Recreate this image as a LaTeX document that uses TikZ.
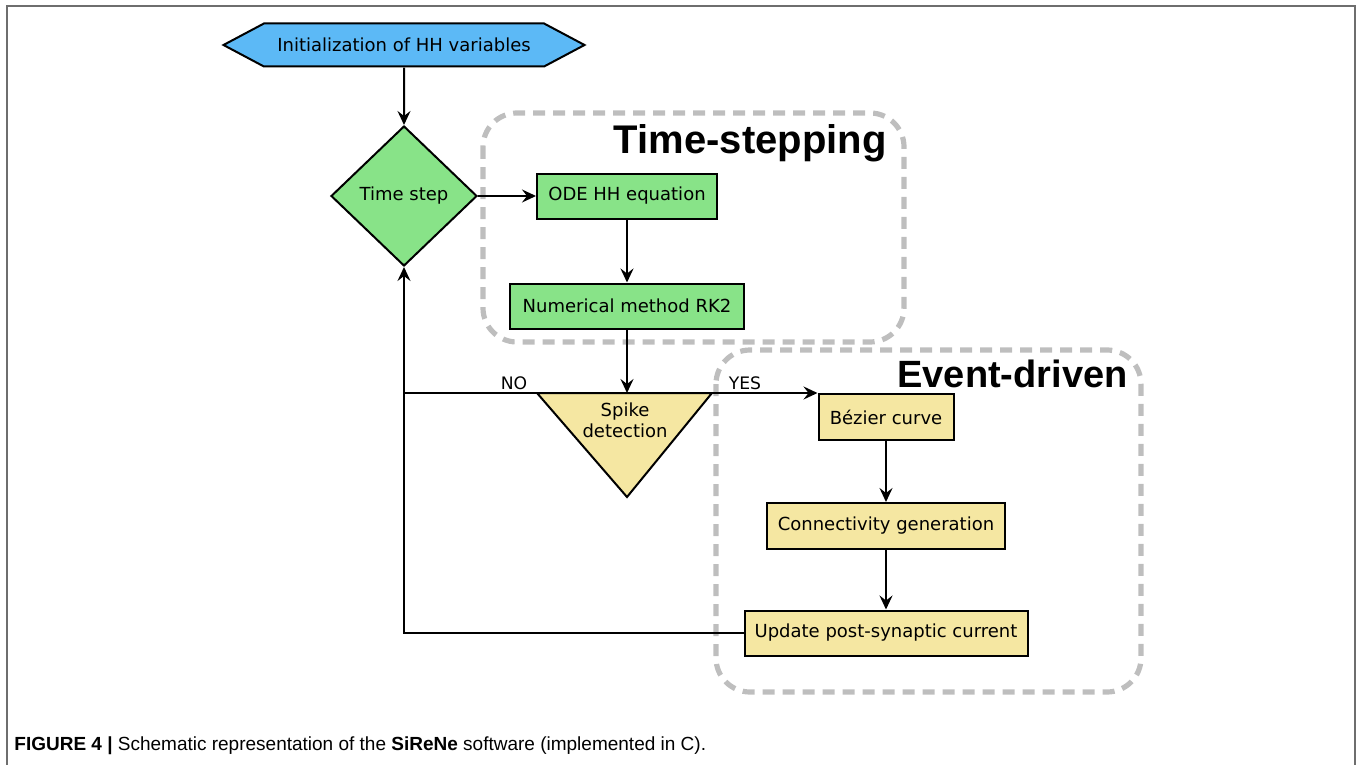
\documentclass[tikz,border=0pt]{standalone}
\usepackage{fontspec}
\setmainfont{DejaVu Sans}
\newfontfamily\ttlfont{Liberation Sans}
\newfontfamily\capfont{Liberation Sans}
\usetikzlibrary{shapes.geometric,shapes.symbols,arrows.meta}
\definecolor{hexblue}{RGB}{92,185,246}
\definecolor{boxgreen}{RGB}{136,227,136}
\definecolor{boxyellow}{RGB}{245,231,162}
\definecolor{grpgray}{RGB}{190,190,190}
\definecolor{framegray}{RGB}{110,110,110}
\begin{document}
\begin{tikzpicture}[x=0.5pt,y=-0.5pt,
  box/.style={draw, line width=1pt, inner sep=0pt, font=\fontsize{9}{11}\selectfont},
  hexa/.style={box, signal, signal to=west and east, signal pointer angle=56, fill=hexblue},
  dia/.style={box, diamond, fill=boxgreen},
  grp/.style={draw=grpgray, line width=2.6pt, dash pattern=on 6pt off 4pt, rounded corners=17pt},
  ttl/.style={font=\ttlfont\bfseries\fontsize{20}{24}\selectfont, inner sep=0pt},
  lbl/.style={font=\fontsize{8.6}{10}\selectfont, inner sep=1pt},
  arr/.style={line width=1pt, -{Stealth[length=7pt,width=6.5pt,inset=2.5pt]}}]
\useasboundingbox (0,0) rectangle (1360,765);
\draw[framegray, line width=1pt] (7,765) -- (7,6) -- (1355,6) -- (1355,765);
\draw[grp] (483,113) rectangle (904,342);
\draw[grp] (716,350) rectangle (1141,692);
\node[ttl, anchor=base east] (tsttl) at (887,154) {Time-stepping};
\node[ttl, anchor=base east, font=\ttlfont\bfseries\fontsize{19}{23}\selectfont] (edttl) at (1128,387) {Event-driven};
\node[hexa, minimum width=180.5pt, minimum height=21.5pt] (init) at (404,45) {Initialization of HH variables};
\node[dia, minimum width=73pt, minimum height=70pt] (tstep) at (404,196) {Time step};
\node[box, fill=boxgreen, minimum width=90pt, minimum height=22.5pt] (ode) at (627,196) {ODE HH equation};
\node[box, fill=boxgreen, minimum width=117pt, minimum height=22.5pt] (rk2) at (627,306) {Numerical method RK2};
\coordinate (spl) at (537,393);
\coordinate (spr) at (712,393);
\coordinate (spb) at (627,497);
\coordinate (spt) at (627,393);
\draw[box, fill=boxyellow] (spl) -- (spr) -- (spb) -- cycle;
\node[box, draw=none, align=center, font=\fontsize{9}{10.5}\selectfont] (spike) at (625,420) {Spike\\detection};
\node[box, fill=boxyellow, minimum width=67.5pt, minimum height=23pt, anchor=north] (bez) at (886,393) {Bézier curve};
\node[box, fill=boxyellow, minimum width=119pt, minimum height=23pt] (conn) at (886,526) {Connectivity generation};
\node[box, fill=boxyellow, minimum width=141.5pt, minimum height=22.5pt] (upd) at (886,633) {Update post-synaptic current};
\node[lbl, anchor=south] (no) at (514,392) {NO};
\node[lbl, anchor=south] (yes) at (745,392) {YES};
\draw[arr] (init) -- (tstep);
\draw[arr] (tstep) -- (ode);
\draw[arr] (ode) -- (rk2);
\draw[arr] (rk2) -- (spt);
\draw[line width=1pt] (spl) -- (spl -| tstep);
\draw[arr] (spr) -- (bez.north west);
\draw[arr] (bez) -- (conn);
\draw[arr] (conn) -- (upd);
\draw[arr] (upd.west) -| (tstep.south);
\node[anchor=base west, inner sep=0pt, font=\capfont\fontsize{9.5}{11}\selectfont] (cap) at (14,750) {\textbf{FIGURE 4 |} Schematic representation of the \textbf{SiReNe} software (implemented in C).};
\end{tikzpicture}
\end{document}
